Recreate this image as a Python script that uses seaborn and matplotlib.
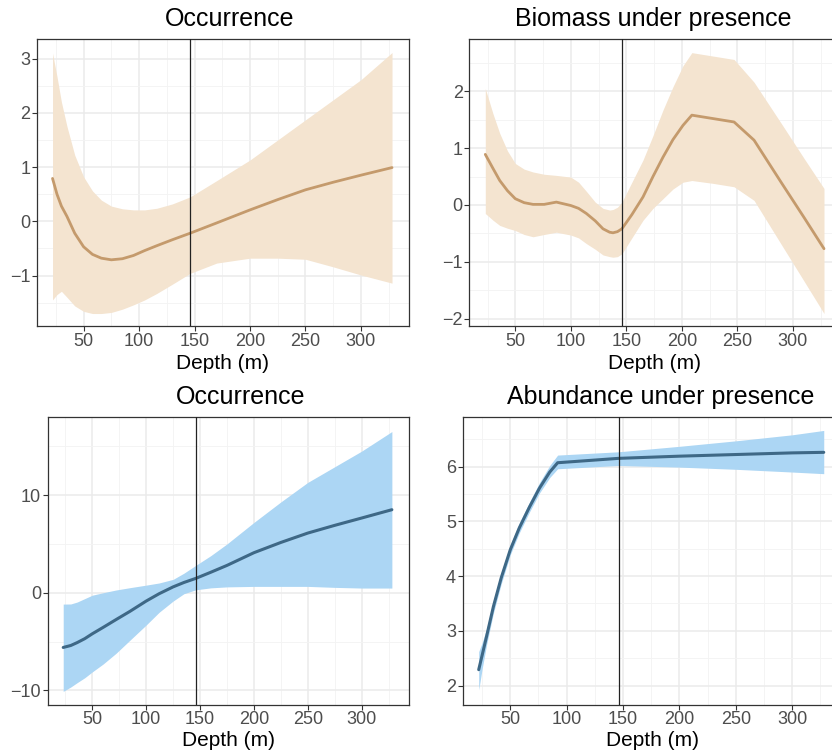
import matplotlib
matplotlib.use("Agg")
import matplotlib.pyplot as plt
import seaborn as sns
import pandas as pd

# ---------------- data ----------------
depth_vline = 146

tl_depth = [22, 26, 30, 35, 42, 50, 58, 66, 75, 85, 95, 105, 116, 130, 146, 170, 200, 225, 250, 275, 300, 328]
tl_fit = [0.79, 0.50, 0.28, 0.09, -0.22, -0.47, -0.61, -0.68, -0.71, -0.69, -0.63, -0.54, -0.45, -0.34, -0.22, -0.03, 0.21, 0.40, 0.58, 0.72, 0.85, 0.99]
tl_upper = [3.10, 2.67, 2.20, 1.75, 1.22, 0.82, 0.56, 0.39, 0.28, 0.23, 0.21, 0.21, 0.24, 0.32, 0.45, 0.75, 1.13, 1.50, 1.87, 2.24, 2.61, 3.11]
tl_lower = [-1.45, -1.35, -1.29, -1.40, -1.56, -1.66, -1.70, -1.70, -1.68, -1.62, -1.54, -1.45, -1.33, -1.16, -0.96, -0.77, -0.68, -0.68, -0.70, -0.84, -0.99, -1.14]

tr_depth = [23, 30, 36, 43, 50, 58, 66, 76, 87, 100, 107, 114, 122, 129, 135, 138, 142, 146, 155, 165, 174, 183, 192, 201, 209, 228, 247, 265, 290, 310, 328]
tr_fit = [0.89, 0.64, 0.43, 0.25, 0.11, 0.04, 0.01, 0.01, 0.05, -0.01, -0.06, -0.15, -0.28, -0.42, -0.48, -0.49, -0.47, -0.42, -0.17, 0.14, 0.50, 0.84, 1.15, 1.40, 1.58, 1.52, 1.46, 1.14, 0.38, -0.22, -0.77]
tr_upper = [2.05, 1.60, 1.26, 0.95, 0.73, 0.63, 0.58, 0.54, 0.52, 0.49, 0.40, 0.24, 0.05, -0.06, -0.09, -0.08, -0.04, 0.05, 0.40, 0.79, 1.22, 1.67, 2.08, 2.45, 2.68, 2.62, 2.56, 2.16, 1.42, 0.82, 0.29]
tr_lower = [-0.15, -0.27, -0.36, -0.41, -0.45, -0.52, -0.56, -0.52, -0.48, -0.53, -0.58, -0.68, -0.78, -0.88, -0.91, -0.92, -0.91, -0.86, -0.58, -0.27, -0.06, 0.11, 0.28, 0.40, 0.43, 0.38, 0.32, 0.08, -0.71, -1.34, -1.91]

bl_depth = [23, 30, 36, 43, 50, 60, 72, 85, 100, 112, 125, 135, 146, 160, 175, 200, 225, 250, 275, 300, 328]
bl_fit = [-5.60, -5.40, -5.10, -4.70, -4.20, -3.55, -2.75, -1.90, -0.85, -0.10, 0.60, 1.05, 1.47, 2.10, 2.80, 4.10, 5.15, 6.11, 6.90, 7.65, 8.50]
bl_upper = [-1.16, -1.15, -0.95, -0.60, -0.25, 0.00, 0.28, 0.52, 0.78, 1.00, 1.37, 2.00, 2.80, 3.80, 5.00, 7.20, 9.30, 11.30, 12.90, 14.50, 16.50]
bl_lower = [-10.10, -9.65, -9.20, -8.70, -8.10, -7.30, -6.20, -4.85, -3.30, -2.00, -0.85, -0.10, 0.30, 0.50, 0.60, 0.65, 0.65, 0.65, 0.55, 0.48, 0.48]

br_depth = [22, 25, 29, 35, 42, 50, 58, 67, 76, 85, 92, 146, 200, 250, 300, 328]
br_fit = [2.29, 2.55, 2.90, 3.44, 3.97, 4.48, 4.88, 5.26, 5.61, 5.90, 6.07, 6.15, 6.19, 6.22, 6.25, 6.26]
br_upper = [2.62, 2.78, 3.04, 3.55, 4.07, 4.57, 4.97, 5.35, 5.71, 6.02, 6.21, 6.27, 6.37, 6.47, 6.58, 6.66]
br_lower = [1.92, 2.30, 2.75, 3.32, 3.86, 4.39, 4.79, 5.17, 5.52, 5.80, 5.96, 6.02, 5.99, 5.95, 5.90, 5.87]

titles = ["Occurrence", "Biomass under presence", "Occurrence", "Abundance under presence"]
x_major = [50, 100, 150, 200, 250, 300]
x_minor = [25, 75, 125, 175, 225, 275, 325]

# ---------------- style ----------------
sns.set_theme(style="white")
plt.rcParams['font.family'] = ['Liberation Sans', 'DejaVu Sans']

W, H = 832, 756
fig = plt.figure(figsize=(W / 100, H / 100), dpi=100)

TAN_FILL = "#f4e4d0"
TAN_LINE = "#c49a6c"
BLUE_FILL = "#acd6f4"
BLUE_LINE = "#3e6886"

panels = [
    dict(depth=tl_depth, fit=tl_fit, up=tl_upper, lo=tl_lower, box=(37, 409, 39, 326),
         xlim=(8.0, 343.3), ylim=(-1.93, 3.36), yt=[-1, 0, 1, 2, 3], ym=[-1.5, -0.5, 0.5, 1.5, 2.5],
         fill=TAN_FILL, line=TAN_LINE, lw=2.0, title=(230, 19), xlab=(223, 363)),
    dict(depth=tr_depth, fit=tr_fit, up=tr_upper, lo=tr_lower, box=(469.3, 841, 39, 326),
         xlim=(8.6, 343.3), ylim=(-2.13, 2.92), yt=[-2, -1, 0, 1, 2], ym=[-1.5, -0.5, 0.5, 1.5, 2.5],
         fill=TAN_FILL, line=TAN_LINE, lw=2.0, title=(653, 19), xlab=(655, 363)),
    dict(depth=bl_depth, fit=bl_fit, up=bl_upper, lo=bl_lower, box=(47.7, 409, 417.3, 704.7),
         xlim=(8.6, 343.9), ylim=(-11.46, 17.96), yt=[-10, 0, 10], ym=[-5, 5, 15],
         fill=BLUE_FILL, line=BLUE_LINE, lw=2.2, title=(241, 397), xlab=(228, 741)),
    dict(depth=br_depth, fit=br_fit, up=br_upper, lo=br_lower, box=(462.7, 841, 417.3, 704.7),
         xlim=(7.8, 343.3), ylim=(1.65, 6.9), yt=[2, 3, 4, 5, 6], ym=[2.5, 3.5, 4.5, 5.5, 6.5],
         fill=BLUE_FILL, line=BLUE_LINE, lw=2.2, title=(661, 397), xlab=(652, 741)),
]

for p, title in zip(panels, titles):
    l, r, t, b = p["box"]
    ax = fig.add_axes([l / W, 1 - b / H, (r - l) / W, (b - t) / H])
    df = pd.DataFrame({"depth": p["depth"], "fit": p["fit"], "upper": p["up"], "lower": p["lo"]})
    ax.set_facecolor("white")
    ax.fill_between(df["depth"], df["lower"], df["upper"], color=p["fill"], lw=0, zorder=2)
    sns.lineplot(data=df, x="depth", y="fit", ax=ax, color=p["line"], lw=p["lw"], zorder=3,
                 estimator=None, sort=False)
    ax.axvline(depth_vline, color="#222222", lw=0.9, zorder=4)

    ax.set_xlim(*p["xlim"])
    ax.set_ylim(*p["ylim"])
    ax.set_xticks(x_major)
    ax.set_xticks(x_minor, minor=True)
    ax.set_yticks(p["yt"])
    ax.set_yticks(p["ym"], minor=True)
    ax.grid(True, which="major", color="#ebebeb", lw=1.1, zorder=0)
    ax.grid(True, which="minor", color="#f3f3f3", lw=0.6, zorder=0)
    ax.set_axisbelow(True)
    ax.tick_params(axis="both", which="major", direction="out", length=3.6, width=0.8,
                   color="#333333", labelsize=13, labelcolor="#4d4d4d", pad=1.2,
                   bottom=True, left=True)
    ax.tick_params(axis="both", which="minor", length=0)
    ax.set_xlabel("")
    ax.set_ylabel("")
    for s in ax.spines.values():
        s.set_visible(True)
        s.set_color("#333333")
        s.set_linewidth(0.9)

    fig.text(p["title"][0] / W, 1 - p["title"][1] / H, title, ha="center", va="center",
             fontsize=18, color="black")
    fig.text(p["xlab"][0] / W, 1 - p["xlab"][1] / H, "Depth (m)", ha="center", va="center",
             fontsize=15, color="black")

fig.savefig("out.png", dpi=100)
